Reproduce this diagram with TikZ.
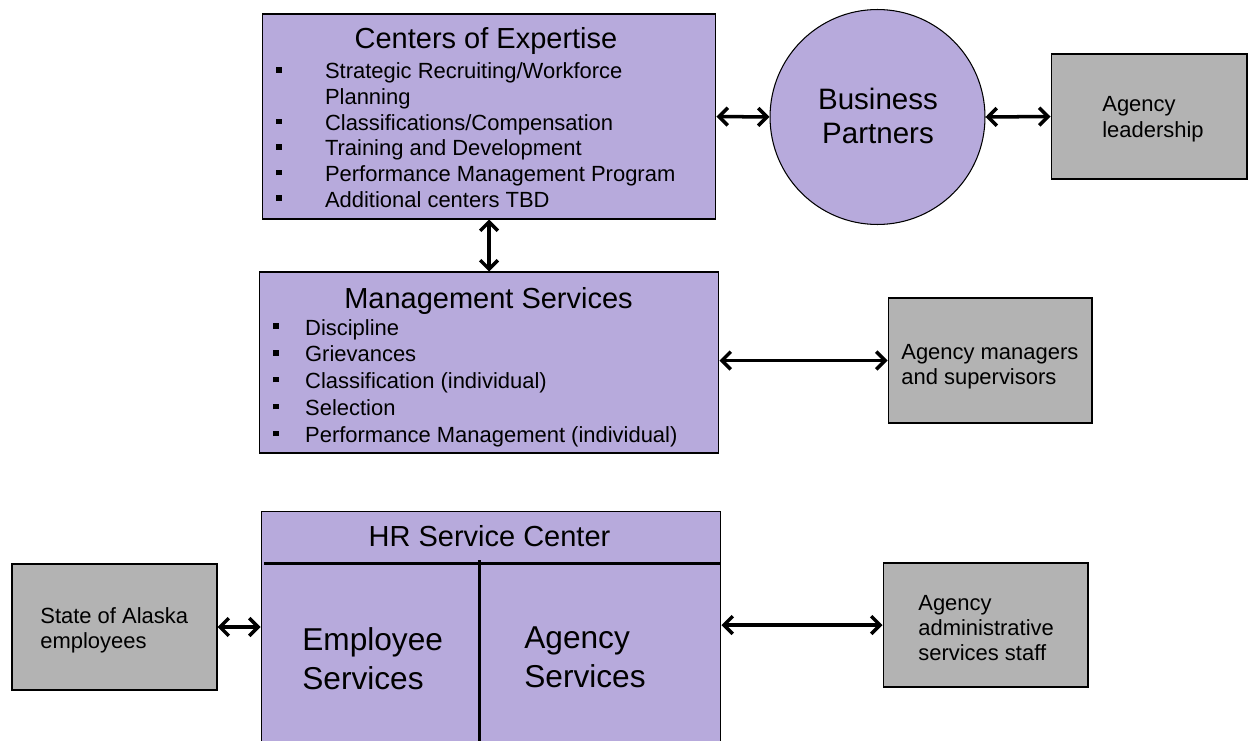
\documentclass[tikz,border=0pt]{standalone}
\usepackage{fontspec}
\setmainfont{Liberation Sans}
\usetikzlibrary{positioning,arrows.meta}

\definecolor{lavender}{RGB}{183,170,220}
\definecolor{agencygray}{RGB}{179,179,179}
\newcommand{\sqbullet}{\rule[3.6pt]{3.1pt}{3.1pt}}

\begin{document}
\begin{tikzpicture}[
    x=0.02cm, y=-0.02cm,
    block/.style={draw=black, line width=0.6pt, inner sep=0pt},
    hr/.style={block, fill=lavender},
    agency/.style={block, fill=agencygray, minimum width=4.1cm, minimum height=2.5cm},
    txt/.style={inner sep=0pt, anchor=base},
    heading/.style={txt, font=\fontsize{16.5}{19}\selectfont},
    items/.style={inner sep=0pt, anchor=base west, font=\fontsize{12.5}{14.6}\selectfont},
    note/.style={inner sep=0pt, anchor=base west, font=\fontsize{12.5}{14.5}\selectfont},
    big/.style={inner sep=0pt, anchor=base west, font=\fontsize{18}{22.7}\selectfont},
    divider/.style={line width=1.7pt},
    link/.style={<->, line width=2pt, >={Straight Barb[length=5pt,width=10pt]}},
  ]
    \useasboundingbox (0,0) rectangle (1256,740);
    \clip (0,0) rectangle (1256,740);

    % top row
    \node[hr, minimum width=9.08cm, minimum height=4.1cm] (coe) at (489,116.5) {};
    \node[heading] (coe_title) at (486,49) {Centers of Expertise};
    \node[items] (coe_list) at (276,79) {
      \begin{tabular}[t]{@{}l@{\hspace{24.6pt}}l@{}}
        \sqbullet & Strategic Recruiting/Workforce \\
                  & Planning \\
        \sqbullet & Classifications/Compensation \\
        \sqbullet & Training and Development \\
        \sqbullet & Performance Management Program \\
        \sqbullet & Additional centers TBD \\
      \end{tabular}
    };

    \node[hr, circle, minimum size=4.3cm] (partners) at (877.5,117) {};
    \node[txt, font=\fontsize{16.8}{19.3}\selectfont] (partners_txt) at (878,110) {
      \begin{tabular}[t]{@{}c@{}}
        Business \\
        Partners
      \end{tabular}
    };

    \node[agency, minimum width=3.92cm] (leader) at (1149,116.5) {};
    \node[note] (leader_txt) at (1102,112) {
      \begin{tabular}[t]{@{}l@{}}
        Agency \\
        leadership
      \end{tabular}
    };

    % middle row
    \node[hr, minimum width=9.2cm, minimum height=3.62cm] (mgmt) at (489,362.5) {};
    \node[heading] (mgmt_title) at (488.5,308) {Management Services};
    \node[items, font=\fontsize{12.5}{15.3}\selectfont] (mgmt_list) at (273,335) {
      \begin{tabular}[t]{@{}l@{\hspace{15pt}}l@{}}
        \sqbullet & Discipline \\
        \sqbullet & Grievances \\
        \sqbullet & Classification (individual) \\
        \sqbullet & Selection \\
        \sqbullet & Performance Management (individual) \\
      \end{tabular}
    };

    \node[agency, minimum width=4.08cm] (managers) at (990,360.5) {};
    \node[note] (managers_txt) at (901,359) {
      \begin{tabular}[t]{@{}l@{}}
        Agency managers \\
        and supervisors
      \end{tabular}
    };

    % bottom row
    \node[hr, minimum width=9.2cm, minimum height=4.98cm] (hrsc) at (491,635.5) {};
    \node[heading] (hrsc_title) at (489.5,546) {HR Service Center};
    \draw[divider] (264,563) -- (721,563);
    \draw[divider] (479,560) -- (479,760);
    \node[big] (employee) at (302,650) {
      \begin{tabular}[t]{@{}l@{}}
        Employee \\
        Services
      \end{tabular}
    };
    \node[big] (agencysvc) at (524,648) {
      \begin{tabular}[t]{@{}l@{}}
        Agency \\
        Services
      \end{tabular}
    };

    \node[agency, minimum height=2.52cm] (alaska) at (114.5,627) {};
    \node[note] (alaska_txt) at (40,623) {
      \begin{tabular}[t]{@{}l@{}}
        State of Alaska \\
        employees
      \end{tabular}
    };

    \node[agency, minimum height=2.48cm] (admin) at (985.5,625) {};
    \node[note] (admin_txt) at (918,610) {
      \begin{tabular}[t]{@{}l@{}}
        Agency \\
        administrative \\
        services staff
      \end{tabular}
    };

    \draw[link] (coe.east) -- (partners.west);
    \draw[link] (partners.east) -- (leader.west);
    \draw[link] (coe.south) -- (mgmt.north);
    \draw[link] (mgmt.east |- managers.west) -- (managers.west);
    \draw[link] (alaska.east) -- (alaska.east -| hrsc.west);
    \draw[link] (admin.west -| hrsc.east) -- (admin.west);

  \end{tikzpicture}
\end{document}
